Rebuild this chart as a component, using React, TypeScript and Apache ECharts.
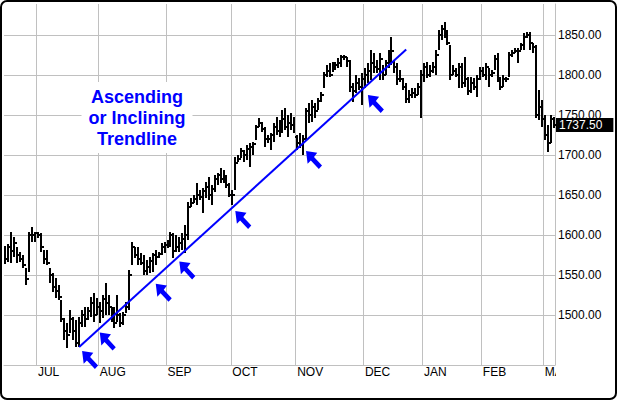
import React, { useEffect, useRef } from "react";
import * as echarts from "echarts";

const MONTH_STARTS = [11, 32, 55, 77, 99, 122, 142, 162, 183];
const MONTH_LABELS = ["JUL", "AUG", "SEP", "OCT", "NOV", "DEC", "JAN", "FEB", "MAR"];
const PRICE_TICKS = [1500, 1550, 1600, 1650, 1700, 1750, 1800, 1850];

const HIGHS = [
  1586, 1589, 1604, 1598, 1585, 1579, 1575, 1559, 1604, 1610,
  1604, 1604, 1603, 1581, 1581, 1559, 1552, 1546, 1537, 1519,
  1496, 1490, 1506, 1497, 1494, 1497, 1506, 1510, 1510, 1522,
  1527, 1521, 1516, 1525, 1540, 1525, 1510, 1510, 1525, 1503,
  1504, 1516, 1556, 1591, 1585, 1585, 1578, 1575, 1569, 1572,
  1578, 1581, 1579, 1590, 1591, 1594, 1604, 1603, 1600, 1597,
  1603, 1612, 1641, 1646, 1650, 1665, 1656, 1659, 1666, 1672,
  1662, 1675, 1678, 1684, 1681, 1675, 1665, 1656, 1698, 1700,
  1709, 1706, 1712, 1715, 1716, 1737, 1746, 1741, 1735, 1725,
  1728, 1740, 1747, 1744, 1756, 1759, 1750, 1752, 1747, 1725,
  1728, 1725, 1759, 1765, 1769, 1765, 1771, 1779, 1804, 1812,
  1815, 1816, 1816, 1821, 1825, 1825, 1822, 1819, 1790, 1800,
  1796, 1803, 1809, 1815, 1831, 1828, 1819, 1828, 1812, 1819,
  1831, 1848, 1819, 1815, 1806, 1796, 1790, 1781, 1784, 1784,
  1790, 1806, 1815, 1816, 1812, 1816, 1831, 1856, 1862, 1866,
  1856, 1838, 1812, 1809, 1815, 1815, 1822, 1797, 1797, 1796,
  1800, 1810, 1810, 1815, 1809, 1806, 1825, 1828, 1797, 1800,
  1797, 1829, 1831, 1834, 1834, 1840, 1852, 1854, 1854, 1840,
  1838, 1781, 1769, 1750, 1737, 1750, 1747,
];

const LOWS = [
  1564, 1566, 1565, 1572, 1565, 1566, 1559, 1538, 1554, 1591,
  1591, 1596, 1579, 1564, 1562, 1540, 1529, 1521, 1519, 1491,
  1469, 1459, 1477, 1469, 1460, 1460, 1485, 1485, 1494, 1497,
  1491, 1500, 1490, 1496, 1500, 1500, 1491, 1484, 1491, 1485,
  1487, 1503, 1506, 1562, 1571, 1562, 1562, 1550, 1550, 1552,
  1554, 1562, 1571, 1575, 1578, 1584, 1585, 1571, 1579, 1579,
  1581, 1578, 1594, 1635, 1640, 1637, 1644, 1628, 1646, 1644,
  1637, 1654, 1662, 1665, 1665, 1659, 1647, 1637, 1656, 1691,
  1696, 1691, 1694, 1685, 1700, 1719, 1735, 1729, 1710, 1715,
  1706, 1716, 1725, 1722, 1728, 1731, 1722, 1731, 1728, 1706,
  1709, 1700, 1719, 1740, 1741, 1746, 1756, 1766, 1784, 1797,
  1797, 1804, 1806, 1809, 1810, 1819, 1810, 1779, 1766, 1778,
  1781, 1762, 1784, 1790, 1794, 1803, 1803, 1794, 1794, 1800,
  1809, 1812, 1803, 1787, 1791, 1781, 1765, 1765, 1771, 1771,
  1775, 1746, 1791, 1796, 1797, 1803, 1800, 1831, 1844, 1846,
  1838, 1794, 1800, 1797, 1784, 1784, 1785, 1775, 1778, 1781,
  1772, 1794, 1797, 1794, 1785, 1797, 1806, 1791, 1781, 1785,
  1791, 1797, 1822, 1828, 1815, 1831, 1831, 1846, 1831, 1828,
  1746, 1744, 1735, 1719, 1704, 1715, 1734,
];

const CLOSES = [
  1570, 1585, 1580, 1590, 1575, 1570, 1562, 1545, 1600, 1600,
  1602, 1600, 1585, 1570, 1565, 1550, 1535, 1530, 1522, 1495,
  1480, 1475, 1495, 1480, 1465, 1490, 1500, 1495, 1505, 1515,
  1500, 1510, 1505, 1520, 1515, 1510, 1500, 1490, 1500, 1490,
  1500, 1510, 1550, 1585, 1575, 1570, 1565, 1555, 1560, 1568,
  1575, 1572, 1576, 1585, 1588, 1590, 1600, 1580, 1585, 1590,
  1595, 1600, 1635, 1640, 1645, 1650, 1648, 1655, 1660, 1650,
  1658, 1670, 1675, 1670, 1668, 1662, 1650, 1650, 1690, 1695,
  1705, 1700, 1708, 1710, 1714, 1735, 1740, 1732, 1720, 1720,
  1725, 1735, 1730, 1740, 1745, 1735, 1740, 1738, 1722, 1715,
  1712, 1720, 1755, 1750, 1760, 1755, 1768, 1775, 1800, 1805,
  1800, 1810, 1812, 1815, 1822, 1822, 1818, 1785, 1780, 1790,
  1785, 1795, 1800, 1805, 1815, 1810, 1808, 1820, 1800, 1815,
  1825, 1830, 1810, 1795, 1795, 1785, 1770, 1775, 1778, 1775,
  1785, 1800, 1810, 1800, 1805, 1810, 1825, 1850, 1858, 1850,
  1840, 1800, 1805, 1800, 1810, 1790, 1795, 1780, 1790, 1785,
  1795, 1805, 1800, 1810, 1800, 1802, 1820, 1795, 1785, 1795,
  1795, 1825, 1828, 1830, 1830, 1838, 1848, 1850, 1840, 1835,
  1750, 1760, 1745, 1725, 1715, 1745, 1737.5,
];

const LAST_CLOSE = 1737.5;
const TREND_POINTS = [
  [25, 1460],
  [136, 1832],
];
const ARROW_POINTS = [
  [26, 1455],
  [32, 1478],
  [51, 1539],
  [59, 1567],
  [78, 1630],
  [102, 1705],
  [123, 1775],
];
const NOTE_TEXT = "Ascending\nor Inclining\nTrendline";

const FONT = "'Liberation Sans', Arial, sans-serif";
const GRID_COLOR = "#c0c0c0";
const BLUE = "#0000ff";

const CATEGORIES = HIGHS.map((_, i) => String(i));
const isMonthStart = (index: number) => MONTH_STARTS.indexOf(index) >= 0;

export default function App() {
  const ref = useRef<HTMLDivElement>(null);

  useEffect(() => {
    if (!ref.current) return;
    const chart = echarts.init(ref.current, undefined, { renderer: "svg" });
    const barData = HIGHS.map((h, i) => [i, h, LOWS[i], CLOSES[i]]);

    chart.setOption({
      animation: false,
      backgroundColor: "#fff",
      grid: { left: 4, right: 63, top: 4, bottom: 36 },
      xAxis: {
        type: "category",
        data: CATEGORIES,
        boundaryGap: true,
        axisLine: { show: true, lineStyle: { color: GRID_COLOR, width: 1 } },
        axisTick: { show: false },
        axisLabel: {
          interval: (index: number) => isMonthStart(index),
          formatter: (_v: string, index: number) => {
            const k = MONTH_STARTS.indexOf(index);
            return k >= 0 ? MONTH_LABELS[k] : "";
          },
          align: "left",
          margin: 1,
          color: "#000",
          fontSize: 12,
          fontFamily: FONT,
        },
        splitLine: {
          show: true,
          interval: (index: number) => isMonthStart(index),
          lineStyle: { color: GRID_COLOR, width: 1 },
        },
      },
      yAxis: {
        type: "value",
        position: "right",
        min: 1437.5,
        max: 1888.75,
        axisLine: { show: true, lineStyle: { color: GRID_COLOR, width: 1 } },
        axisTick: { show: false, customValues: PRICE_TICKS },
        axisLabel: {
          customValues: PRICE_TICKS,
          formatter: (v: number) => v.toFixed(2),
          margin: 3,
          color: "#000",
          fontSize: 12,
          fontFamily: FONT,
        },
        splitLine: { show: true, lineStyle: { color: GRID_COLOR, width: 1 } },
      },
      series: [
        {
          type: "custom",
          name: "Price",
          data: barData,
          encode: { x: 0, y: [1, 2, 3] },
          z: 2,
          renderItem: (_params: any, api: any) => {
            const x = api.value(0);
            const hi = api.coord([x, api.value(1)]);
            const lo = api.coord([x, api.value(2)]);
            const cl = api.coord([x, api.value(3)]);
            const px = Math.round(hi[0]);
            const top = Math.round(hi[1]);
            const bottom = Math.round(lo[1]);
            const cy = Math.round(cl[1]);
            return {
              type: "group",
              children: [
                {
                  type: "rect",
                  shape: { x: px - 1, y: top, width: 2, height: Math.max(bottom - top, 1) },
                  style: { fill: "#000" },
                },
                {
                  type: "rect",
                  shape: { x: px + 1, y: cy - 1, width: 2, height: 2 },
                  style: { fill: "#000" },
                },
              ],
            };
          },
        },
        {
          type: "line",
          name: "Trendline",
          data: TREND_POINTS,
          symbol: "none",
          z: 3,
          lineStyle: { color: BLUE, width: 2 },
          markLine: {
            silent: true,
            symbol: "none",
            lineStyle: { color: "rgba(0,0,0,0)", width: 0 },
            data: [{ yAxis: LAST_CLOSE }],
            label: {
              show: true,
              position: "end",
              distance: 1,
              formatter: () => LAST_CLOSE.toFixed(2),
              backgroundColor: "#000",
              color: "#fff",
              fontSize: 12,
              fontFamily: FONT,
              padding: [1, 11, 1, 3],
            },
          },
        },
        {
          type: "scatter",
          name: "Arrows",
          data: ARROW_POINTS,
          z: 4,
          symbol: "path://M0,0 L14,2 L10,7 L20,17 L16,21 L6,11 L2,15 Z",
          symbolSize: [16, 18],
          symbolOffset: [8, 9],
          itemStyle: { color: BLUE, opacity: 1 },
        },
      ],
      graphic: [
        {
          type: "text",
          x: 137,
          y: 82,
          z: 10,
          style: {
            text: NOTE_TEXT,
            font: "bold 18px " + FONT,
            fill: BLUE,
            align: "center",
            verticalAlign: "top",
            lineHeight: 21,
            backgroundColor: "#fff",
            padding: [4, 7, 4, 7],
          },
        },
        {
          type: "rect",
          shape: { x: 556, y: 366, width: 30, height: 16 },
          style: { fill: "#fff" },
          z: 10,
        },
        {
          type: "rect",
          shape: { x: 1, y: 1, width: 615, height: 398, r: 6 },
          style: { fill: "none", stroke: "#000", lineWidth: 2 },
          z: 20,
        },
      ],
    });

    return () => chart.dispose();
  }, []);

  return (
    <div
      ref={ref}
      style={{ position: "fixed", left: 0, top: 0, width: 618, height: 401 }}
    />
  );
}
